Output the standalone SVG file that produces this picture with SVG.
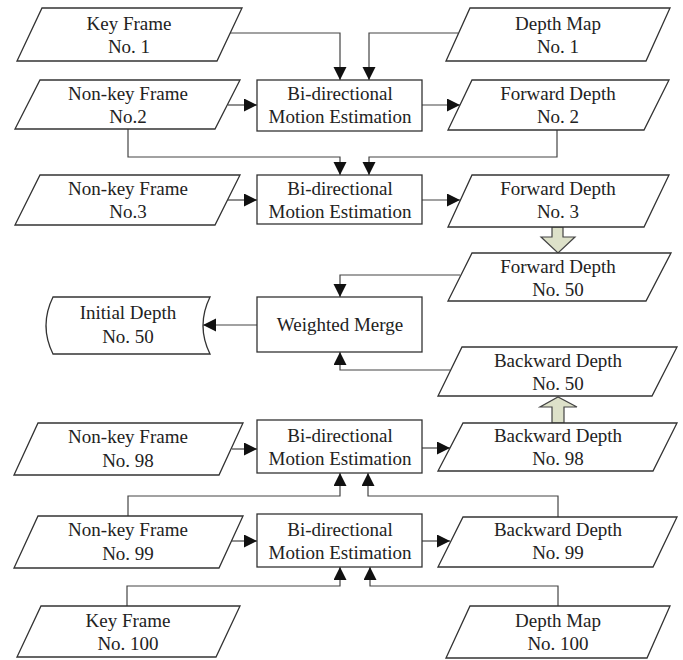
<svg xmlns="http://www.w3.org/2000/svg" width="683" height="660" viewBox="0 0 683 660">
<defs>
<marker id="ah" markerUnits="userSpaceOnUse" markerWidth="14" markerHeight="14" refX="13" refY="6.5" orient="auto">
<path d="M0,0 L13,6.5 L0,13 z" fill="#111"/>
</marker>
<style>
.shape{fill:#fff;stroke:#333;stroke-width:1.3}
.conn{fill:none;stroke:#444;stroke-width:1.2}
.big{fill:#dde1c9;stroke:#444;stroke-width:1.2}
text{font-family:"Liberation Serif","Times New Roman",serif;font-size:19px;fill:#222;text-anchor:middle}
</style>
</defs>
<rect width="683" height="660" fill="#fff"/>
<g id="connectors">
<polyline class="conn" points="230,33 340,33 340,80" marker-end="url(#ah)"/>
<polyline class="conn" points="458,33 369,33 369,80" marker-end="url(#ah)"/>
<polyline class="conn" points="228,105 257,105" marker-end="url(#ah)"/>
<polyline class="conn" points="422,105 460,105" marker-end="url(#ah)"/>
<polyline class="conn" points="128,129 128,157 340,157 340,175" marker-end="url(#ah)"/>
<polyline class="conn" points="557,130 557,157 369,157 369,175" marker-end="url(#ah)"/>
<polyline class="conn" points="228,200 257,200" marker-end="url(#ah)"/>
<polyline class="conn" points="422,200 460,200" marker-end="url(#ah)"/>
<polygon class="big" points="552,227 563,227 563,237 575,237 558,253 541,237 552,237"/>
<polyline class="conn" points="460,275 340,275 340,297" marker-end="url(#ah)"/>
<polyline class="conn" points="257,325 203,325" marker-end="url(#ah)"/>
<polyline class="conn" points="450,370 340,370 340,352" marker-end="url(#ah)"/>
<polygon class="big" points="552,423 564,423 564,407 577,407 558,397 540,407 552,407"/>
<polyline class="conn" points="232,449 257,449" marker-end="url(#ah)"/>
<polyline class="conn" points="422,448 450,448" marker-end="url(#ah)"/>
<polyline class="conn" points="128,516 128,496 340,496 340,473" marker-end="url(#ah)"/>
<polyline class="conn" points="558,517 558,496 368,496 368,473" marker-end="url(#ah)"/>
<polyline class="conn" points="232,541 257,541" marker-end="url(#ah)"/>
<polyline class="conn" points="422,541 450,541" marker-end="url(#ah)"/>
<polyline class="conn" points="127,606 127,586 340,586 340,567" marker-end="url(#ah)"/>
<polyline class="conn" points="558,606 558,586 370,586 370,567" marker-end="url(#ah)"/>
</g>
<g id="keyframe1"><polygon class="shape" points="42,8 242,8 217,61 17,61"/><text x="129" y="30">Key Frame</text><text x="129" y="53">No. 1</text></g>
<g id="depthmap1"><polygon class="shape" points="470,8 670,8 646,61 446,61"/><text x="558" y="30">Depth Map</text><text x="558" y="53">No. 1</text></g>
<g id="nonkey2"><polygon class="shape" points="40,80 240,80 215,129 15,129"/><text x="128" y="100">Non-key Frame</text><text x="128" y="123">No.2</text></g>
<g id="bme1"><rect class="shape" x="257" y="80" width="165" height="51"/><text x="340" y="100">Bi-directional</text><text x="340" y="123">Motion Estimation</text></g>
<g id="forward2"><polygon class="shape" points="472,80 669,80 644,130 448,130"/><text x="558" y="100">Forward Depth</text><text x="558" y="123">No. 2</text></g>
<g id="nonkey3"><polygon class="shape" points="40,175 240,175 215,225 15,225"/><text x="128" y="195">Non-key Frame</text><text x="128" y="218">No.3</text></g>
<g id="bme2"><rect class="shape" x="257" y="175" width="165" height="49"/><text x="340" y="195">Bi-directional</text><text x="340" y="218">Motion Estimation</text></g>
<g id="forward3"><polygon class="shape" points="472,175 669,175 644,227 448,227"/><text x="558" y="195">Forward Depth</text><text x="558" y="218">No. 3</text></g>
<g id="forward50"><polygon class="shape" points="472,253 671,253 646,301 448,301"/><text x="558" y="273">Forward Depth</text><text x="558" y="296">No. 50</text></g>
<g id="initial50"><path class="shape" d="M53,297 L210,297 Q196,325.5 210,354 L53,354 Q39,325.5 53,297 z"/><text x="128" y="319">Initial Depth</text><text x="128" y="343">No. 50</text></g>
<g id="merge"><rect class="shape" x="257" y="297" width="165" height="55"/><text x="340" y="331">Weighted Merge</text></g>
<g id="backward50"><polygon class="shape" points="462,347 677,347 652,396 438,396"/><text x="558" y="367">Backward Depth</text><text x="558" y="390">No. 50</text></g>
<g id="nonkey98"><polygon class="shape" points="38,423 243,423 219,475 14,475"/><text x="128" y="443">Non-key Frame</text><text x="128" y="467">No. 98</text></g>
<g id="bme98"><rect class="shape" x="257" y="420" width="165" height="53"/><text x="340" y="442">Bi-directional</text><text x="340" y="465">Motion Estimation</text></g>
<g id="backward98"><polygon class="shape" points="463,423 677,423 653,471 438,471"/><text x="558" y="442">Backward Depth</text><text x="558" y="465">No. 98</text></g>
<g id="nonkey99"><polygon class="shape" points="38,516 243,516 219,568 14,568"/><text x="128" y="536">Non-key Frame</text><text x="128" y="560">No. 99</text></g>
<g id="bme99"><rect class="shape" x="257" y="514" width="165" height="53"/><text x="340" y="536">Bi-directional</text><text x="340" y="559">Motion Estimation</text></g>
<g id="backward99"><polygon class="shape" points="463,517 677,517 653,567 438,567"/><text x="558" y="536">Backward Depth</text><text x="558" y="559">No. 99</text></g>
<g id="keyframe100"><polygon class="shape" points="41,606 240,606 216,657 17,657"/><text x="128" y="627">Key Frame</text><text x="128" y="650">No. 100</text></g>
<g id="depthmap100"><polygon class="shape" points="470,606 670,606 647,658 446,658"/><text x="558" y="627">Depth Map</text><text x="558" y="650">No. 100</text></g>
</svg>
